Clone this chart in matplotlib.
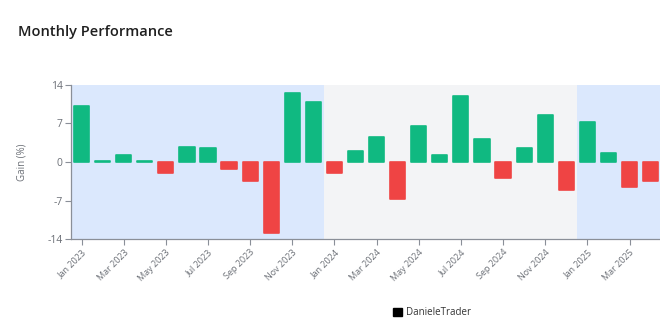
import matplotlib
matplotlib.use("Agg")
import matplotlib.pyplot as plt
from matplotlib.patches import Patch

plt.rcParams['font.family'] = ['Open Sans', 'DejaVu Sans']

# Monthly gains (%) from Jan 2023 to Apr 2025
months = ["Jan 2023", "Feb 2023", "Mar 2023", "Apr 2023", "May 2023", "Jun 2023",
          "Jul 2023", "Aug 2023", "Sep 2023", "Oct 2023", "Nov 2023", "Dec 2023",
          "Jan 2024", "Feb 2024", "Mar 2024", "Apr 2024", "May 2024", "Jun 2024",
          "Jul 2024", "Aug 2024", "Sep 2024", "Oct 2024", "Nov 2024", "Dec 2024",
          "Jan 2025", "Feb 2025", "Mar 2025", "Apr 2025"]
gains = [10.1, 0.2, 1.2, 0.15, -1.95, 2.7, 2.55, -1.3, -3.5, -12.9, 12.4, 10.9,
         -1.95, 1.95, 4.5, -6.7, 6.5, 1.3, 11.9, 4.1, -2.85, 2.5, 8.4, -5.15,
         7.3, 1.7, -4.55, -3.45]
tick_labels = ["Jan 2023", "Mar 2023", "May 2023", "Jul 2023", "Sep 2023", "Nov 2023",
               "Jan 2024", "Mar 2024", "May 2024", "Jul 2024", "Sep 2024", "Nov 2024",
               "Jan 2025", "Mar 2025", "May 2025"]
yticks = [-14, -7, 0, 7, 14]
series_name = "DanieleTrader"

GREEN = "#10b981"
RED = "#ef4444"
BLUE_BG = "#dbe8fd"
GRAY_BG = "#f3f4f6"
AXIS = "#8a8f98"
TEXT = "#6b6f76"

fig = plt.figure(figsize=(6.6, 3.3), dpi=100)
ax = fig.add_axes([0.1076, 0.2748, 0.942, 0.469])

x = list(range(len(months)))
colors = [GREEN if g >= 0 else RED for g in gains]

# Year bands
ax.axvspan(-0.5, 11.5, color=BLUE_BG, zorder=0, lw=0)
ax.axvspan(11.5, 23.5, color=GRAY_BG, zorder=0, lw=0)
ax.axvspan(23.5, 35.5, color=BLUE_BG, zorder=0, lw=0)

bars = ax.bar(x, gains, width=0.72, color=colors, edgecolor=colors,
              linewidth=1.2, zorder=2)
for b in bars:
    b.set_joinstyle('round')

ax.set_xlim(-0.5, 28.5)
ax.set_ylim(-14, 14)
ax.set_yticks(yticks)
ax.set_yticklabels([str(v) for v in yticks])

tick_pos = [months.index(t) if t in months else len(months) + 1 for t in tick_labels]
ax.set_xticks(tick_pos)
ax.set_xticklabels(tick_labels, rotation=45, ha='right', rotation_mode='anchor')

for s in ['top', 'right']:
    ax.spines[s].set_visible(False)
for s in ['left', 'bottom']:
    ax.spines[s].set_color(AXIS)
    ax.spines[s].set_linewidth(0.9)
ax.tick_params(axis='both', colors=AXIS, length=4, width=0.8)
ax.tick_params(axis='y', labelsize=7.5, labelcolor=TEXT, pad=2)
ax.tick_params(axis='x', labelsize=6.5, labelcolor=TEXT, pad=2)

ax.set_ylabel("Gain (%)", fontsize=7, color=TEXT, labelpad=14)

fig.text(0.027, 0.903, "Monthly Performance", fontsize=10.5, fontweight='semibold',
         color="#1f1f1f", ha='left', va='center')

fig.legend(handles=[Patch(facecolor='black', edgecolor='black', label=series_name)],
           loc='center', bbox_to_anchor=(0.655, 0.053), frameon=False,
           fontsize=7, handlelength=0.9, handleheight=0.9, handletextpad=0.4,
           labelcolor="#333333")

fig.savefig("out.png", dpi=100)
